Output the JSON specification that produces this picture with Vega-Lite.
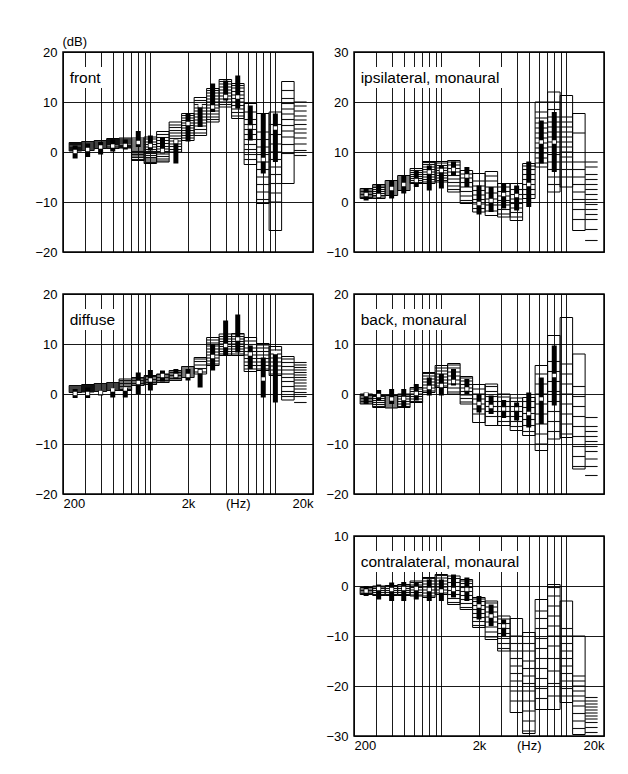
{
"$schema": "https://vega.github.io/schema/vega-lite/v6.json",
"padding": {"left": 34, "top": 34, "right": 5, "bottom": 5},
"background": "white",
"config": {
  "font": "Liberation Sans",
  "view": {"stroke": "black", "strokeWidth": 1.5},
  "axis": {"labelFont": "Liberation Sans", "labelFontSize": 13, "labelColor": "black", "ticks": false, "domain": false, "grid": true, "gridColor": "black", "gridWidth": 0.9, "gridOpacity": 1}
},
"datasets": {
"d": [
{"p":"front","f":250,"f1":224,"f2":282,"lo":0.2,"hi":1.9,"b1":1.3,"b2":-1.3,"m":0.1,"ls":[0.3,0.5,0.7,0.9,1.0,1.2,1.4,1.5,1.7,1.8]},
{"p":"front","f":315,"f1":282,"f2":355,"lo":0.3,"hi":2.1,"b1":1.7,"b2":-1.0,"m":0.5,"ls":[0.4,0.6,0.8,1.0,1.2,1.4,1.6,1.8,2.0]},
{"p":"front","f":400,"f1":355,"f2":447,"lo":0.7,"hi":2.3,"b1":2.0,"b2":-0.5,"m":1.0,"ls":[0.8,1.0,1.2,1.4,1.6,1.8,2.0,2.2]},
{"p":"front","f":500,"f1":447,"f2":562,"lo":0.7,"hi":2.7,"b1":2.5,"b2":0.1,"m":1.2,"ls":[0.8,1.0,1.2,1.5,1.7,1.9,2.1,2.3,2.5]},
{"p":"front","f":630,"f1":562,"f2":708,"lo":0.8,"hi":2.8,"b1":2.5,"b2":0.5,"m":1.3,"ls":[0.9,1.1,1.3,1.6,1.8,2.0,2.2,2.4,2.6]},
{"p":"front","f":800,"f1":708,"f2":891,"lo":-1.7,"hi":2.8,"b1":4.2,"b2":1.0,"m":1.9,"ls":[-1.5,-1.1,-0.8,-0.5,-0.2,0.1,0.4,0.8,1.2,1.6,2.0,2.4]},
{"p":"front","f":1000,"f1":891,"f2":1122,"lo":-2.3,"hi":3.0,"b1":3.3,"b2":0.3,"m":1.3,"ls":[-2.1,-1.8,-1.4,-1.1,-0.7,-0.3,0.1,0.5,1.0,1.5,2.0,2.6]},
{"p":"front","f":1250,"f1":1122,"f2":1413,"lo":-2.0,"hi":4.1,"b1":3.0,"b2":-0.3,"m":0.3,"ls":[-1.8,-1.4,-0.9,-0.4,0.1,0.6,1.1,1.7,2.3,2.9,3.5]},
{"p":"front","f":1600,"f1":1413,"f2":1778,"lo":0,"hi":6.0,"b1":2.5,"b2":-2.3,"m":2.1,"ls":[0.5,1.1,1.6,2.2,2.7,3.2,3.8,4.3,4.9,5.4]},
{"p":"front","f":2000,"f1":1778,"f2":2239,"lo":2.3,"hi":7.7,"b1":7.7,"b2":2.1,"m":5.7,"ls":[2.8,3.3,3.8,4.3,4.8,5.3,5.8,6.3,6.8,7.3]},
{"p":"front","f":2500,"f1":2239,"f2":2818,"lo":3.3,"hi":10.9,"b1":9.3,"b2":5.0,"m":9.3,"ls":[3.8,4.5,5.2,5.8,6.4,7.0,7.6,8.2,8.8,9.5,10.3]},
{"p":"front","f":3150,"f1":2818,"f2":3548,"lo":6.0,"hi":12.7,"b1":13.7,"b2":8.0,"m":9.0,"ls":[6.5,7.0,7.6,8.2,8.8,9.4,10.0,10.6,11.2,11.8,12.3]},
{"p":"front","f":4000,"f1":3548,"f2":4467,"lo":9.0,"hi":14.5,"b1":14.3,"b2":10.3,"m":11.1,"ls":[9.5,10.0,10.6,11.2,11.8,12.4,13.0,13.6,14.1]},
{"p":"front","f":5000,"f1":4467,"f2":5623,"lo":6.7,"hi":13.7,"b1":15.3,"b2":8.7,"m":11.0,"ls":[7.2,7.9,8.6,9.3,10.0,10.7,11.4,12.1,12.8,13.3]},
{"p":"front","f":6300,"f1":5623,"f2":7079,"lo":-2.5,"hi":9.7,"b1":9.3,"b2":2.3,"m":5.0,"ls":[-1.5,-0.5,0.5,1.5,2.5,3.5,4.5,5.5,6.5,8.0]},
{"p":"front","f":8000,"f1":7079,"f2":8913,"lo":-10.3,"hi":7.7,"b1":7.7,"b2":-4.3,"m":-1.5,"ls":[-9.5,-8.0,-6.5,-5.0,-3.5,-2.0,-0.5,1.0,2.5,4.0]},
{"p":"front","f":10000,"f1":8913,"f2":11220,"lo":-15.7,"hi":8.0,"b1":7.7,"b2":-2.0,"m":4.8,"ls":[-10.0,-8.2,-6.3,-4.5,-3.0,-1.5,0,1.6,3.5,5.5]},
{"p":"front","f":12500,"f1":11220,"f2":14125,"lo":-6.3,"hi":14.1,"ls":[-0.3,1.5,3.0,4.2,5.3,6.5,7.6,8.6,9.7,10.7,12.3]},
{"p":"front","f":16000,"f1":14125,"f2":17783,"ls":[-0.7,0.3,1.6,2.8,3.8,4.6,5.5,6.4,7.2,8.2,9.2,10.0]},

{"p":"ipsi","f":250,"f1":224,"f2":282,"lo":0.7,"hi":2.7,"b1":2.7,"b2":0.3,"m":1.5,"ls":[0.9,1.2,1.5,1.8,2.1,2.4]},
{"p":"ipsi","f":315,"f1":282,"f2":355,"lo":0.7,"hi":3.5,"b1":3.5,"b2":0.7,"m":1.3,"ls":[1.0,1.3,1.7,2.1,2.5,2.9,3.2]},
{"p":"ipsi","f":400,"f1":355,"f2":447,"lo":1.3,"hi":4.3,"b1":4.3,"b2":0.7,"m":2.7,"ls":[1.6,2.0,2.4,2.8,3.2,3.6,4.0]},
{"p":"ipsi","f":500,"f1":447,"f2":562,"lo":2.3,"hi":5.3,"b1":5.3,"b2":1.7,"m":3.5,"ls":[2.6,3.0,3.4,3.8,4.2,4.6,5.0]},
{"p":"ipsi","f":630,"f1":562,"f2":708,"lo":3.7,"hi":6.7,"b1":6.3,"b2":3.0,"m":4.3,"ls":[3.9,4.3,4.7,5.1,5.5,5.9,6.3]},
{"p":"ipsi","f":800,"f1":708,"f2":891,"lo":3.7,"hi":8.1,"b1":7.3,"b2":2.3,"m":6.0,"ls":[4.0,4.5,5.0,5.5,6.0,6.5,7.0,7.5,7.9]},
{"p":"ipsi","f":1000,"f1":891,"f2":1122,"lo":4.0,"hi":8.1,"b1":7.3,"b2":2.7,"m":6.3,"ls":[4.3,4.8,5.3,5.8,6.3,6.8,7.3,7.8]},
{"p":"ipsi","f":1250,"f1":1122,"f2":1413,"lo":2.0,"hi":8.3,"b1":8.1,"b2":5.3,"m":6.5,"ls":[2.5,3.2,3.9,4.6,5.3,6.0,6.7,7.4,8.0]},
{"p":"ipsi","f":1600,"f1":1413,"f2":1778,"lo":-0.3,"hi":6.3,"b1":7.0,"b2":3.0,"m":5.2,"ls":[0.3,1.2,2.1,3.0,3.9,4.8,5.6]},
{"p":"ipsi","f":2000,"f1":1778,"f2":2239,"lo":-2.0,"hi":5.7,"b1":3.3,"b2":-2.5,"m":-0.3,"ls":[-1.3,-0.4,0.5,1.4,2.3,3.2,4.2]},
{"p":"ipsi","f":2500,"f1":2239,"f2":2818,"lo":-2.7,"hi":6.1,"b1":3.0,"b2":-2.0,"m":0.3,"ls":[-1.8,-0.6,0.6,1.8,3.0,4.2,5.2]},
{"p":"ipsi","f":3150,"f1":2818,"f2":3548,"lo":-3.0,"hi":3.7,"b1":3.7,"b2":-1.3,"m":1.5,"ls":[-2.4,-1.5,-0.6,0.3,1.2,2.1,3.0]},
{"p":"ipsi","f":4000,"f1":3548,"f2":4467,"lo":-3.7,"hi":3.7,"b1":3.3,"b2":-1.7,"m":1.3,"ls":[-3.0,-2.1,-1.2,-0.3,0.6,1.5,2.5]},
{"p":"ipsi","f":5000,"f1":4467,"f2":5623,"lo":0.7,"hi":7.7,"b1":8.1,"b2":-1.0,"m":3.5,"ls":[1.5,2.5,3.5,4.5,5.5,6.5,7.2]},
{"p":"ipsi","f":6300,"f1":5623,"f2":7079,"lo":7.0,"hi":20.0,"b1":16.3,"b2":7.7,"m":12.0,"ls":[7.8,8.8,9.8,10.8,11.8,12.8,13.8,14.8,15.8,16.8,18.0]},
{"p":"ipsi","f":8000,"f1":7079,"f2":8913,"lo":2.0,"hi":22.0,"b1":18.0,"b2":6.0,"m":12.0,"ls":[3.5,5.0,6.5,8.0,9.5,11.0,12.0,13.0,14.0,15.0,16.0,17.0,18.5,20.0]},
{"p":"ipsi","f":10000,"f1":8913,"f2":11220,"lo":3.0,"hi":21.3,"ls":[5.0,6.5,8.0,9.0,10.0,11.0,12.0,13.0,14.0,15.0,16.0,17.0]},
{"p":"ipsi","f":12500,"f1":11220,"f2":14125,"lo":-5.7,"hi":17.7,"ls":[-3.5,-1.5,0.5,2.0,3.5,5.0,6.5,8.0,13.8]},
{"p":"ipsi","f":16000,"f1":14125,"f2":17783,"ls":[-7.7,-5.5,-3.5,-2.5,-1.5,-0.5,0.5,1.5,2.5,3.5,4.5,5.5,7.0,8.0]},

{"p":"diffuse","f":250,"f1":224,"f2":282,"lo":0.3,"hi":1.7,"b1":1.0,"b2":-0.8,"m":0.1,"ls":[0.4,0.6,0.8,1.0,1.2,1.4,1.6]},
{"p":"diffuse","f":315,"f1":282,"f2":355,"lo":0.4,"hi":1.9,"b1":1.3,"b2":-0.8,"m":0.1,"ls":[0.5,0.7,0.9,1.1,1.3,1.5,1.7]},
{"p":"diffuse","f":400,"f1":355,"f2":447,"lo":0.5,"hi":2.1,"b1":0.7,"b2":-0.3,"m":0.3,"ls":[0.6,0.8,1.0,1.2,1.4,1.6,1.8,2.0]},
{"p":"diffuse","f":500,"f1":447,"f2":562,"lo":0.7,"hi":2.3,"b1":1.0,"b2":-0.7,"m":0.8,"ls":[0.8,1.0,1.2,1.4,1.6,1.8,2.0,2.2]},
{"p":"diffuse","f":630,"f1":562,"f2":708,"lo":0.7,"hi":3.0,"b1":1.2,"b2":-0.7,"m":1.0,"ls":[0.9,1.2,1.5,1.8,2.1,2.4,2.7]},
{"p":"diffuse","f":800,"f1":708,"f2":891,"lo":1.7,"hi":3.3,"b1":4.3,"b2":0,"m":2.3,"ls":[1.8,2.1,2.4,2.7,3.0,3.2]},
{"p":"diffuse","f":1000,"f1":891,"f2":1122,"lo":1.9,"hi":3.7,"b1":4.8,"b2":0.7,"m":2.8,"ls":[2.0,2.3,2.6,2.9,3.2,3.5]},
{"p":"diffuse","f":1250,"f1":1122,"f2":1413,"lo":2.3,"hi":4.0,"b1":4.7,"b2":2.5,"m":3.7,"ls":[2.4,2.7,3.0,3.3,3.6,3.9]},
{"p":"diffuse","f":1600,"f1":1413,"f2":1778,"lo":2.7,"hi":4.7,"b1":5.0,"b2":3.0,"m":3.7,"ls":[2.8,3.1,3.4,3.7,4.0,4.3,4.6]},
{"p":"diffuse","f":2000,"f1":1778,"f2":2239,"lo":3.3,"hi":5.5,"b1":5.0,"b2":2.7,"m":3.7,"ls":[3.4,3.8,4.2,4.6,5.0,5.4]},
{"p":"diffuse","f":2500,"f1":2239,"f2":2818,"lo":4.0,"hi":7.3,"b1":5.0,"b2":1.3,"m":4.5,"ls":[4.4,5.1,5.8,6.5,7.0]},
{"p":"diffuse","f":3150,"f1":2818,"f2":3548,"lo":5.7,"hi":11.3,"b1":10.0,"b2":4.7,"m":7.5,"ls":[6.0,6.6,7.2,7.8,8.4,9.0,9.6,10.2,10.8]},
{"p":"diffuse","f":4000,"f1":3548,"f2":4467,"lo":7.7,"hi":12.0,"b1":14.7,"b2":7.7,"m":9.7,"ls":[8.0,8.5,9.0,9.5,10.0,10.5,11.0,11.5]},
{"p":"diffuse","f":5000,"f1":4467,"f2":5623,"lo":7.7,"hi":12.1,"b1":15.9,"b2":8.3,"m":11.0,"ls":[8.0,8.5,9.0,9.5,10.0,10.5,11.0,11.5,12.0]},
{"p":"diffuse","f":6300,"f1":5623,"f2":7079,"lo":4.5,"hi":11.3,"b1":9.7,"b2":5.0,"m":8.0,"ls":[5.0,5.7,6.4,7.1,7.8,8.5,9.2,9.9,10.6]},
{"p":"diffuse","f":8000,"f1":7079,"f2":8913,"lo":4.7,"hi":10.1,"b1":7.3,"b2":-0.7,"m":3.0,"ls":[5.0,5.7,6.4,7.1,7.8,8.5,9.2,9.8]},
{"p":"diffuse","f":10000,"f1":8913,"f2":11220,"lo":3.7,"hi":9.5,"b1":8.0,"b2":-1.7,"m":8.3,"ls":[4.0,4.8,5.6,6.4,7.2,8.0,8.8]},
{"p":"diffuse","f":12500,"f1":11220,"f2":14125,"lo":-1.2,"hi":7.5,"ls":[-0.5,0.5,1.5,2.5,3.3,4.0,4.8,5.5,6.3,7.0]},
{"p":"diffuse","f":16000,"f1":14125,"f2":17783,"ls":[-1.7,-0.5,0.3,1.0,1.6,2.2,2.8,3.3,3.8,4.3,4.8,5.3,5.8,6.3]},

{"p":"back","f":250,"f1":224,"f2":282,"lo":-2.0,"hi":0,"b1":0.3,"b2":-2.0,"m":-0.1,"ls":[-1.8,-1.5,-1.2,-0.9,-0.6,-0.3]},
{"p":"back","f":315,"f1":282,"f2":355,"lo":-2.7,"hi":-0.3,"b1":0.8,"b2":-1.3,"m":-0.3,"ls":[-2.5,-2.1,-1.7,-1.3,-0.9,-0.5]},
{"p":"back","f":400,"f1":355,"f2":447,"lo":-2.8,"hi":-0.3,"b1":1.0,"b2":-2.0,"m":-1.0,"ls":[-2.6,-2.2,-1.8,-1.4,-1.0,-0.6]},
{"p":"back","f":500,"f1":447,"f2":562,"lo":-2.7,"hi":0,"b1":1.0,"b2":-2.8,"m":-0.9,"ls":[-2.5,-2.0,-1.5,-1.0,-0.5,-0.2]},
{"p":"back","f":630,"f1":562,"f2":708,"lo":-1.7,"hi":1.3,"b1":2.0,"b2":-1.3,"m":0.1,"ls":[-1.5,-1.0,-0.5,0,0.5,1.0]},
{"p":"back","f":800,"f1":708,"f2":891,"lo":0.3,"hi":4.3,"b1":3.3,"b2":-0.3,"m":1.3,"ls":[0.6,1.2,1.8,2.4,3.0,3.6,4.1]},
{"p":"back","f":1000,"f1":891,"f2":1122,"lo":1.3,"hi":5.7,"b1":4.0,"b2":-0.3,"m":1.7,"ls":[1.6,2.2,2.8,3.4,4.0,4.6,5.2]},
{"p":"back","f":1250,"f1":1122,"f2":1413,"lo":0,"hi":6.1,"b1":5.0,"b2":1.7,"m":2.5,"ls":[0.4,1.2,2.0,2.8,3.6,4.4,5.2,5.8]},
{"p":"back","f":1600,"f1":1413,"f2":1778,"lo":-2.0,"hi":3.5,"b1":3.0,"b2":0,"m":1.0,"ls":[-1.6,-0.9,-0.2,0.5,1.2,1.9,2.6,3.2]},
{"p":"back","f":2000,"f1":1778,"f2":2239,"lo":-5.7,"hi":1.9,"b1":0,"b2":-3.7,"m":-1.9,"ls":[-4.0,-3.0,-2.0,-1.0,0,1.0]},
{"p":"back","f":2500,"f1":2239,"f2":2818,"lo":-6.3,"hi":2.0,"b1":-0.3,"b2":-4.0,"m":-2.5,"ls":[-4.5,-3.5,-2.5,-1.5,-0.5,0.5,1.5]},
{"p":"back","f":3150,"f1":2818,"f2":3548,"lo":-6.3,"hi":0,"b1":-1.2,"b2":-4.8,"m":-3.0,"ls":[-5.5,-4.5,-3.5,-2.5,-1.5,-0.6]},
{"p":"back","f":4000,"f1":3548,"f2":4467,"lo":-7.3,"hi":-0.8,"b1":-1.7,"b2":-5.3,"m":-3.0,"ls":[-6.5,-5.5,-4.5,-3.5,-2.5,-1.5]},
{"p":"back","f":5000,"f1":4467,"f2":5623,"lo":-8.3,"hi":-0.7,"b1":0.3,"b2":-6.7,"m":-3.9,"ls":[-7.5,-6.3,-5.1,-3.9,-2.7,-1.5]},
{"p":"back","f":6300,"f1":5623,"f2":7079,"lo":-11.3,"hi":5.7,"b1":3.3,"b2":-6.0,"m":-1.0,"ls":[-10.0,-8.0,-6.0,-4.0,-2.0,0,2.0,4.0]},
{"p":"back","f":8000,"f1":7079,"f2":8913,"lo":-9.0,"hi":11.7,"b1":9.7,"b2":-2.3,"m":3.7,"ls":[-7.5,-5.5,-3.5,-1.5,0.5,2.5,4.5,6.5]},
{"p":"back","f":10000,"f1":8913,"f2":11220,"lo":-8.7,"hi":15.3,"ls":[-8.0,-6.0,-4.0,-2.0,0,2.0,4.0,6.0]},
{"p":"back","f":12500,"f1":11220,"f2":14125,"lo":-15.0,"hi":8.0,"ls":[-14.5,-12.5,-10.5,-8.5,-6.5,-4.5,-2.5,-0.5,1.5]},
{"p":"back","f":16000,"f1":14125,"f2":17783,"ls":[-16.3,-14.5,-13.0,-11.5,-10.5,-9.5,-8.5,-7.5,-6.5,-4.7]},

{"p":"contra","f":250,"f1":224,"f2":282,"lo":-1.7,"hi":-0.3,"b1":0,"b2":-2.0,"m":-1.0,"ls":[-1.5,-1.2,-0.9,-0.6]},
{"p":"contra","f":315,"f1":282,"f2":355,"lo":-1.9,"hi":0,"b1":0.3,"b2":-2.7,"m":-0.5,"ls":[-1.7,-1.3,-0.9,-0.5,-0.2]},
{"p":"contra","f":400,"f1":355,"f2":447,"lo":-1.9,"hi":0.1,"b1":0.7,"b2":-3.0,"m":-0.7,"ls":[-1.7,-1.3,-0.9,-0.5,-0.1]},
{"p":"contra","f":500,"f1":447,"f2":562,"lo":-1.9,"hi":0.3,"b1":0.8,"b2":-3.0,"m":-0.5,"ls":[-1.7,-1.3,-0.9,-0.5,0]},
{"p":"contra","f":630,"f1":562,"f2":708,"lo":-2.0,"hi":1.0,"b1":0.7,"b2":-2.7,"m":-0.5,"ls":[-1.8,-1.3,-0.8,-0.3,0.2,0.7]},
{"p":"contra","f":800,"f1":708,"f2":891,"lo":-2.3,"hi":1.7,"b1":1.3,"b2":-3.0,"m":-0.7,"ls":[-2.0,-1.4,-0.8,-0.2,0.4,1.0,1.5]},
{"p":"contra","f":1000,"f1":891,"f2":1122,"lo":-1.7,"hi":2.3,"b1":1.3,"b2":-3.0,"m":-1.0,"ls":[-1.4,-0.8,-0.2,0.4,1.0,1.6,2.1]},
{"p":"contra","f":1250,"f1":1122,"f2":1413,"lo":-3.7,"hi":2.0,"b1":2.3,"b2":-2.3,"m":-0.7,"ls":[-3.3,-2.5,-1.7,-0.9,-0.1,0.7,1.5]},
{"p":"contra","f":1600,"f1":1413,"f2":1778,"lo":-4.7,"hi":1.3,"b1":1.7,"b2":-3.0,"m":-0.7,"ls":[-4.3,-3.5,-2.7,-1.9,-1.1,-0.3,0.5,1.0]},
{"p":"contra","f":2000,"f1":1778,"f2":2239,"lo":-8.3,"hi":-2.3,"b1":-2.0,"b2":-6.7,"m":-4.0,"ls":[-7.9,-7.1,-6.3,-5.5,-4.7,-3.9,-3.1,-2.6]},
{"p":"contra","f":2500,"f1":2239,"f2":2818,"lo":-10.7,"hi":-3.0,"b1":-3.7,"b2":-8.0,"m":-6.0,"ls":[-10.2,-9.2,-8.2,-7.2,-6.2,-5.2,-4.2,-3.4]},
{"p":"contra","f":3150,"f1":2818,"f2":3548,"lo":-13.0,"hi":-6.0,"b1":-6.7,"b2":-10.0,"m":-8.0,"ls":[-12.5,-11.5,-10.5,-9.5,-8.5,-7.5,-6.6]},
{"p":"contra","f":4000,"f1":3548,"f2":4467,"lo":-25.3,"hi":-6.5,"ls":[-23.0,-21.0,-19.0,-17.5,-16.0,-14.5,-13.0,-11.5,-10.0]},
{"p":"contra","f":5000,"f1":4467,"f2":5623,"lo":-29.5,"hi":-9.3,"ls":[-29.0,-27.0,-25.0,-23.0,-21.0,-19.5,-18.0,-16.5,-15.0,-13.0,-11.5]},
{"p":"contra","f":6300,"f1":5623,"f2":7079,"lo":-24.7,"hi":-2.7,"ls":[-22.5,-20.5,-18.5,-16.5,-14.5,-12.5,-10.5,-8.5,-6.5,-5.0]},
{"p":"contra","f":8000,"f1":7079,"f2":8913,"lo":-24.7,"hi":0.3,"ls":[-22.0,-19.5,-17.0,-14.5,-12.0,-10.0,-8.0,-6.0,-4.0,-2.0,-0.3]},
{"p":"contra","f":10000,"f1":8913,"f2":11220,"lo":-23.3,"hi":-3.0,"ls":[-22.0,-20.5,-19.0,-17.5,-16.0,-14.5,-13.0,-11.5,-10.0,-8.5]},
{"p":"contra","f":12500,"f1":11220,"f2":14125,"lo":-29.7,"hi":-10.0,"ls":[-28.5,-27.0,-25.5,-24.0,-23.0,-22.0,-21.0,-20.0,-19.0,-18.0]},
{"p":"contra","f":16000,"f1":14125,"f2":17783,"ls":[-29.3,-28.3,-27.3,-26.6,-26.0,-25.4,-24.8,-24.2,-23.6,-23.0,-22.3]}
]
},
"columns": 2,
"spacing": {"row": 42, "column": 41},
"bounds": "flush",
"concat": [
 {"width": 250, "height": 200, "layer": [
  {"data": {"name": "d"}, "transform": [{"filter": "datum.p=='front'"}],
   "mark": {"type": "rect", "fillOpacity": 0, "stroke": "black", "strokeWidth": 1},
   "encoding": {
    "x": {"field": "f1", "type": "quantitative", "scale": {"type": "log", "domain": [200, 20000], "nice": false}, "axis": {"values": [200,300,400,500,600,700,800,900,1000,2000,3000,4000,5000,6000,7000,8000,9000,10000,20000], "labels": false, "title": null}},
    "x2": {"field": "f2"},
    "y": {"field": "lo", "type": "quantitative", "scale": {"domain": [-20, 20], "nice": false, "zero": false}, "axis": {"values": [-20,-10,0,10,20], "labelPadding": 6, "title": "(dB)", "titleX": -1, "titleY": -11, "titleAngle": 0, "titleAlign": "left", "titleBaseline": "middle", "titleFont": "Liberation Sans", "titleFontSize": 13, "titleFontWeight": "normal", "titleColor": "black"}},
    "y2": {"field": "hi"}}},
  {"data": {"name": "d"}, "transform": [{"filter": "datum.p=='front'"}, {"flatten": ["ls"]}],
   "mark": {"type": "rule", "stroke": "#111111", "strokeWidth": 1.1},
   "encoding": {"x": {"field": "f1", "type": "quantitative"}, "x2": {"field": "f2"}, "y": {"field": "ls", "type": "quantitative"}}},
  {"data": {"name": "d"}, "transform": [{"filter": "datum.p=='front'"}],
   "mark": {"type": "rule", "stroke": "black", "strokeWidth": 5},
   "encoding": {"x": {"field": "f", "type": "quantitative"}, "y": {"field": "b1", "type": "quantitative"}, "y2": {"field": "b2"}}},
  {"data": {"name": "d"}, "transform": [{"filter": "datum.p=='front'"}],
   "mark": {"type": "square", "size": 12, "color": "white", "opacity": 1, "strokeWidth": 0},
   "encoding": {"x": {"field": "f", "type": "quantitative"}, "y": {"field": "m", "type": "quantitative"}}},
  {"data": {"values": [{"t": "front"}]}, "mark": {"type": "rect", "fill": "white"},
   "encoding": {"x": {"datum": 204}, "x2": {"datum": 426}, "y": {"datum": 17}, "y2": {"datum": 12.8}}},
  {"data": {"values": [{"t": "front"}]}, "mark": {"type": "text", "align": "left", "baseline": "middle", "fontSize": 15.5, "font": "Liberation Sans", "color": "black"},
   "encoding": {"x": {"datum": 226}, "y": {"datum": 14.8}, "text": {"field": "t"}}}
 ]},
 {"width": 250, "height": 200, "layer": [
  {"data": {"name": "d"}, "transform": [{"filter": "datum.p=='ipsi'"}],
   "mark": {"type": "rect", "fillOpacity": 0, "stroke": "black", "strokeWidth": 1},
   "encoding": {
    "x": {"field": "f1", "type": "quantitative", "scale": {"type": "log", "domain": [200, 20000], "nice": false}, "axis": {"values": [200,300,400,500,600,700,800,900,1000,2000,3000,4000,5000,6000,7000,8000,9000,10000,20000], "labels": false, "title": null}},
    "x2": {"field": "f2"},
    "y": {"field": "lo", "type": "quantitative", "scale": {"domain": [-10, 30], "nice": false, "zero": false}, "axis": {"values": [-10,0,10,20,30], "labelPadding": 6, "title": null}},
    "y2": {"field": "hi"}}},
  {"data": {"name": "d"}, "transform": [{"filter": "datum.p=='ipsi'"}, {"flatten": ["ls"]}],
   "mark": {"type": "rule", "stroke": "#111111", "strokeWidth": 1.1},
   "encoding": {"x": {"field": "f1", "type": "quantitative"}, "x2": {"field": "f2"}, "y": {"field": "ls", "type": "quantitative"}}},
  {"data": {"name": "d"}, "transform": [{"filter": "datum.p=='ipsi'"}],
   "mark": {"type": "rule", "stroke": "black", "strokeWidth": 5},
   "encoding": {"x": {"field": "f", "type": "quantitative"}, "y": {"field": "b1", "type": "quantitative"}, "y2": {"field": "b2"}}},
  {"data": {"name": "d"}, "transform": [{"filter": "datum.p=='ipsi'"}],
   "mark": {"type": "square", "size": 12, "color": "white", "opacity": 1, "strokeWidth": 0},
   "encoding": {"x": {"field": "f", "type": "quantitative"}, "y": {"field": "m", "type": "quantitative"}}},
  {"data": {"values": [{"t": "ipsilateral, monaural"}]}, "mark": {"type": "rect", "fill": "white"},
   "encoding": {"x": {"datum": 204}, "x2": {"datum": 3083}, "y": {"datum": 27}, "y2": {"datum": 22.8}}},
  {"data": {"values": [{"t": "ipsilateral, monaural"}]}, "mark": {"type": "text", "align": "left", "baseline": "middle", "fontSize": 15.5, "font": "Liberation Sans", "color": "black"},
   "encoding": {"x": {"datum": 226}, "y": {"datum": 24.8}, "text": {"field": "t"}}}
 ]},
 {"width": 250, "height": 200, "layer": [
  {"data": {"name": "d"}, "transform": [{"filter": "datum.p=='diffuse'"}],
   "mark": {"type": "rect", "fillOpacity": 0, "stroke": "black", "strokeWidth": 1},
   "encoding": {
    "x": {"field": "f1", "type": "quantitative", "scale": {"type": "log", "domain": [200, 20000], "nice": false}, "axis": {"values": [200,300,400,500,600,700,800,900,1000,2000,3000,4000,5000,6000,7000,8000,9000,10000,20000], "labelExpr": "datum.value==200?'200':datum.value==2000?'2k':datum.value==5000?'(Hz)':datum.value==20000?'20k':''", "labelFlush": true, "labelOverlap": false, "labelPadding": 3, "title": null}},
    "x2": {"field": "f2"},
    "y": {"field": "lo", "type": "quantitative", "scale": {"domain": [-20, 20], "nice": false, "zero": false}, "axis": {"values": [-20,-10,0,10,20], "labelPadding": 6, "title": null}},
    "y2": {"field": "hi"}}},
  {"data": {"name": "d"}, "transform": [{"filter": "datum.p=='diffuse'"}, {"flatten": ["ls"]}],
   "mark": {"type": "rule", "stroke": "#111111", "strokeWidth": 1.1},
   "encoding": {"x": {"field": "f1", "type": "quantitative"}, "x2": {"field": "f2"}, "y": {"field": "ls", "type": "quantitative"}}},
  {"data": {"name": "d"}, "transform": [{"filter": "datum.p=='diffuse'"}],
   "mark": {"type": "rule", "stroke": "black", "strokeWidth": 5},
   "encoding": {"x": {"field": "f", "type": "quantitative"}, "y": {"field": "b1", "type": "quantitative"}, "y2": {"field": "b2"}}},
  {"data": {"name": "d"}, "transform": [{"filter": "datum.p=='diffuse'"}],
   "mark": {"type": "square", "size": 12, "color": "white", "opacity": 1, "strokeWidth": 0},
   "encoding": {"x": {"field": "f", "type": "quantitative"}, "y": {"field": "m", "type": "quantitative"}}},
  {"data": {"values": [{"t": "diffuse"}]}, "mark": {"type": "rect", "fill": "white"},
   "encoding": {"x": {"datum": 204}, "x2": {"datum": 556}, "y": {"datum": 17}, "y2": {"datum": 12.8}}},
  {"data": {"values": [{"t": "diffuse"}]}, "mark": {"type": "text", "align": "left", "baseline": "middle", "fontSize": 15.5, "font": "Liberation Sans", "color": "black"},
   "encoding": {"x": {"datum": 226}, "y": {"datum": 14.8}, "text": {"field": "t"}}}
 ]},
 {"width": 250, "height": 200, "layer": [
  {"data": {"name": "d"}, "transform": [{"filter": "datum.p=='back'"}],
   "mark": {"type": "rect", "fillOpacity": 0, "stroke": "black", "strokeWidth": 1},
   "encoding": {
    "x": {"field": "f1", "type": "quantitative", "scale": {"type": "log", "domain": [200, 20000], "nice": false}, "axis": {"values": [200,300,400,500,600,700,800,900,1000,2000,3000,4000,5000,6000,7000,8000,9000,10000,20000], "labels": false, "title": null}},
    "x2": {"field": "f2"},
    "y": {"field": "lo", "type": "quantitative", "scale": {"domain": [-20, 20], "nice": false, "zero": false}, "axis": {"values": [-20,-10,0,10,20], "labelPadding": 6, "title": null}},
    "y2": {"field": "hi"}}},
  {"data": {"name": "d"}, "transform": [{"filter": "datum.p=='back'"}, {"flatten": ["ls"]}],
   "mark": {"type": "rule", "stroke": "#111111", "strokeWidth": 1.1},
   "encoding": {"x": {"field": "f1", "type": "quantitative"}, "x2": {"field": "f2"}, "y": {"field": "ls", "type": "quantitative"}}},
  {"data": {"name": "d"}, "transform": [{"filter": "datum.p=='back'"}],
   "mark": {"type": "rule", "stroke": "black", "strokeWidth": 5},
   "encoding": {"x": {"field": "f", "type": "quantitative"}, "y": {"field": "b1", "type": "quantitative"}, "y2": {"field": "b2"}}},
  {"data": {"name": "d"}, "transform": [{"filter": "datum.p=='back'"}],
   "mark": {"type": "square", "size": 12, "color": "white", "opacity": 1, "strokeWidth": 0},
   "encoding": {"x": {"field": "f", "type": "quantitative"}, "y": {"field": "m", "type": "quantitative"}}},
  {"data": {"values": [{"t": "back, monaural"}]}, "mark": {"type": "rect", "fill": "white"},
   "encoding": {"x": {"datum": 204}, "x2": {"datum": 1679}, "y": {"datum": 17}, "y2": {"datum": 12.8}}},
  {"data": {"values": [{"t": "back, monaural"}]}, "mark": {"type": "text", "align": "left", "baseline": "middle", "fontSize": 15.5, "font": "Liberation Sans", "color": "black"},
   "encoding": {"x": {"datum": 226}, "y": {"datum": 14.8}, "text": {"field": "t"}}}
 ]},
 {"width": 250, "height": 200, "data": {"values": []}, "mark": "point", "view": {"stroke": null}},
 {"width": 250, "height": 200, "layer": [
  {"data": {"name": "d"}, "transform": [{"filter": "datum.p=='contra'"}],
   "mark": {"type": "rect", "fillOpacity": 0, "stroke": "black", "strokeWidth": 1},
   "encoding": {
    "x": {"field": "f1", "type": "quantitative", "scale": {"type": "log", "domain": [200, 20000], "nice": false}, "axis": {"values": [200,300,400,500,600,700,800,900,1000,2000,3000,4000,5000,6000,7000,8000,9000,10000,20000], "labelExpr": "datum.value==200?'200':datum.value==2000?'2k':datum.value==5000?'(Hz)':datum.value==20000?'20k':''", "labelFlush": true, "labelOverlap": false, "labelPadding": 3, "title": null}},
    "x2": {"field": "f2"},
    "y": {"field": "lo", "type": "quantitative", "scale": {"domain": [-30, 10], "nice": false, "zero": false}, "axis": {"values": [-30,-20,-10,0,10], "labelPadding": 6, "title": null}},
    "y2": {"field": "hi"}}},
  {"data": {"name": "d"}, "transform": [{"filter": "datum.p=='contra'"}, {"flatten": ["ls"]}],
   "mark": {"type": "rule", "stroke": "#111111", "strokeWidth": 1.1},
   "encoding": {"x": {"field": "f1", "type": "quantitative"}, "x2": {"field": "f2"}, "y": {"field": "ls", "type": "quantitative"}}},
  {"data": {"name": "d"}, "transform": [{"filter": "datum.p=='contra'"}],
   "mark": {"type": "rule", "stroke": "black", "strokeWidth": 5},
   "encoding": {"x": {"field": "f", "type": "quantitative"}, "y": {"field": "b1", "type": "quantitative"}, "y2": {"field": "b2"}}},
  {"data": {"name": "d"}, "transform": [{"filter": "datum.p=='contra'"}],
   "mark": {"type": "square", "size": 12, "color": "white", "opacity": 1, "strokeWidth": 0},
   "encoding": {"x": {"field": "f", "type": "quantitative"}, "y": {"field": "m", "type": "quantitative"}}},
  {"data": {"values": [{"t": "contralateral, monaural"}]}, "mark": {"type": "rect", "fill": "white"},
   "encoding": {"x": {"datum": 204}, "x2": {"datum": 4416}, "y": {"datum": 7}, "y2": {"datum": 2.8}}},
  {"data": {"values": [{"t": "contralateral, monaural"}]}, "mark": {"type": "text", "align": "left", "baseline": "middle", "fontSize": 15.5, "font": "Liberation Sans", "color": "black"},
   "encoding": {"x": {"datum": 226}, "y": {"datum": 4.8}, "text": {"field": "t"}}}
 ]}
]
}
